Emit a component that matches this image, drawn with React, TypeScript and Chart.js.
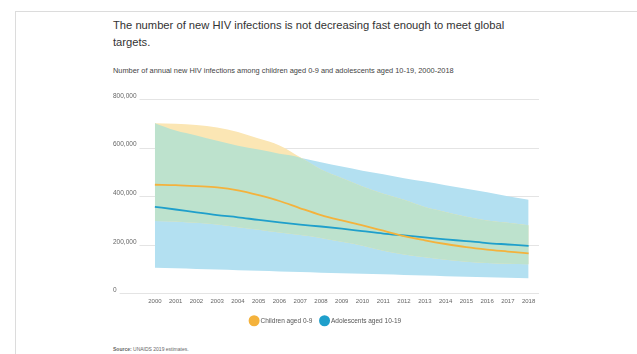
import React, { useEffect, useRef } from "react";
import { Chart, registerables } from "chart.js";

Chart.register(...registerables);

const years = ["2000","2001","2002","2003","2004","2005","2006","2007","2008","2009","2010","2011","2012","2013","2014","2015","2016","2017","2018"];

const children = [447000,445000,441000,436000,424000,404000,380000,350000,322000,300000,280000,258000,235000,218000,203000,190000,180000,172000,164000];
const childrenUpper = [700000,698000,693000,683000,664000,637000,609000,560000,510000,475000,440000,410000,385000,355000,335000,315000,300000,290000,280000];
const childrenLower = [298000,296000,290000,283000,272000,262000,250000,240000,228000,212000,196000,175000,160000,148000,138000,130000,125000,122000,120000];

const adolescents = [356000,345000,333000,322000,313000,302000,292000,283000,275000,266000,256000,246000,238000,230000,222000,215000,207000,201000,195000];
const adolescentsUpper = [700000,670000,650000,628000,608000,592000,575000,558000,540000,522000,505000,490000,474000,460000,445000,430000,416000,400000,385000];
const adolescentsLower = [105000,103000,100000,98000,95000,93000,90000,88000,85000,83000,80000,78000,75000,73000,70000,68000,66000,64000,62000];

const yTicks = [0, 200000, 400000, 600000, 800000];

const legendLabels = ["Children aged 0-9", "Adolescents aged 10-19"];

const ORANGE = "#f4b23c";
const BLUE = "#1f9fcb";
const YELLOW_FILL = "#fbe6b4";
const BLUE_FILL = "#b3e0f1";
const GREEN_FILL = "#bde2cd";
const TICK_FONT = "6.5px 'Liberation Sans'";

const fmt = (v: number) => Number(v).toLocaleString("en-US");

const gridPlugin = {
  id: "gridFromLabels",
  beforeDatasetsDraw(chart: any) {
    const scale = chart.scales.y;
    const ctx = chart.ctx;
    const area = chart.chartArea;
    ctx.save();
    ctx.font = TICK_FONT;
    ctx.strokeStyle = "#e4e4e4";
    ctx.lineWidth = 1;
    yTicks.forEach((v) => {
      const y = Math.round(scale.getPixelForValue(v)) + 0.5;
      const w = ctx.measureText(fmt(v)).width;
      ctx.beginPath();
      ctx.moveTo(scale.left + w + 3, y);
      ctx.lineTo(area.right, y);
      ctx.stroke();
    });
    ctx.restore();
  },
};

export default function App() {
  const ref = useRef<HTMLCanvasElement | null>(null);

  useEffect(() => {
    if (!ref.current) return;
    const overlapUpper = childrenUpper.map((v, i) => Math.min(v, adolescentsUpper[i]));
    const overlapLower = childrenLower.map((v, i) => Math.max(v, adolescentsLower[i]));
    const band = (data: number[], extra: any) => ({
      data,
      borderWidth: 0,
      pointRadius: 0,
      cubicInterpolationMode: "monotone",
      ...extra,
    });
    const chart = new Chart(ref.current, {
      type: "line",
      plugins: [gridPlugin],
      data: {
        labels: years,
        datasets: [
          { label: legendLabels[0], data: children, borderColor: ORANGE, backgroundColor: ORANGE, borderWidth: 1.8, pointRadius: 0, cubicInterpolationMode: "monotone", fill: false, order: 0 },
          { label: legendLabels[1], data: adolescents, borderColor: BLUE, backgroundColor: BLUE, borderWidth: 1.8, pointRadius: 0, cubicInterpolationMode: "monotone", fill: false, order: 0 },
          band(adolescentsLower, { label: "aL", fill: false, order: 3 }),
          band(adolescentsUpper, { label: "aU", fill: 2, backgroundColor: BLUE_FILL, order: 3 }),
          band(childrenLower, { label: "cL", fill: false, order: 2 }),
          band(childrenUpper, { label: "cU", fill: 4, backgroundColor: YELLOW_FILL, order: 2 }),
          band(overlapLower, { label: "oL", fill: false, order: 1 }),
          band(overlapUpper, { label: "oU", fill: 6, backgroundColor: GREEN_FILL, order: 1 }),
        ] as any,
      },
      options: {
        animation: false,
        responsive: false,
        maintainAspectRatio: false,
        layout: { padding: { left: 113, right: 98, top: 15, bottom: 0 } },
        plugins: {
          tooltip: { enabled: false },
          legend: {
            position: "bottom",
            labels: {
              filter: (item: any) => legendLabels.includes(item.text),
              usePointStyle: true,
              pointStyle: "circle",
              boxWidth: 7,
              boxHeight: 7,
              padding: 9,
              color: "#555",
              font: { family: "Liberation Sans", size: 6.5 },
            },
          },
        },
        scales: {
          x: {
            offset: true,
            grid: { display: false, drawTicks: false },
            border: { display: false },
            ticks: { color: "#666", font: { family: "Liberation Sans", size: 6 }, maxRotation: 0, autoSkip: false, padding: 4 },
          },
          y: {
            min: 0,
            max: 800000,
            afterBuildTicks: (axis: any) => { axis.ticks = yTicks.map((v) => ({ value: v })); },
            grid: { display: false, drawTicks: false },
            border: { display: false },
            ticks: {
              color: "#666",
              font: { family: "Liberation Sans", size: 6.5 },
              padding: 4,
              crossAlign: "far",
              labelOffset: -3,
              callback: (v: any) => fmt(v),
            },
          },
        },
      },
    });
    return () => chart.destroy();
  }, []);

  return (
    <div style={{ position: "fixed", left: 0, top: 0, width: 637, height: 354, background: "#fff", overflow: "hidden", fontFamily: "Liberation Sans, Arial, sans-serif" }}>
      <div style={{ position: "absolute", left: 15, top: 11, right: 0, bottom: 0, borderLeft: "1px solid #dcdcdc", borderTop: "1px solid #dcdcdc" }} />
      <div style={{ position: "absolute", left: 113, top: 17, fontSize: 11.2, lineHeight: "17px", color: "#333", whiteSpace: "nowrap" }}>
        The number of new HIV infections is not decreasing fast enough to meet global
        <br />
        targets.
      </div>
      <div style={{ position: "absolute", left: 113, top: 66, fontSize: 7.4, color: "#444", whiteSpace: "nowrap" }}>
        Number of annual new HIV infections among children aged 0-9 and adolescents aged 10-19, 2000-2018
      </div>
      <canvas ref={ref} width={637} height={250} style={{ position: "absolute", left: 0, top: 84, width: 637, height: 250 }} />
      <div style={{ position: "absolute", left: 113, top: 346, fontSize: 5, color: "#666", whiteSpace: "nowrap" }}>
        <b>Source:</b> UNAIDS 2019 estimates.
      </div>
    </div>
  );
}
